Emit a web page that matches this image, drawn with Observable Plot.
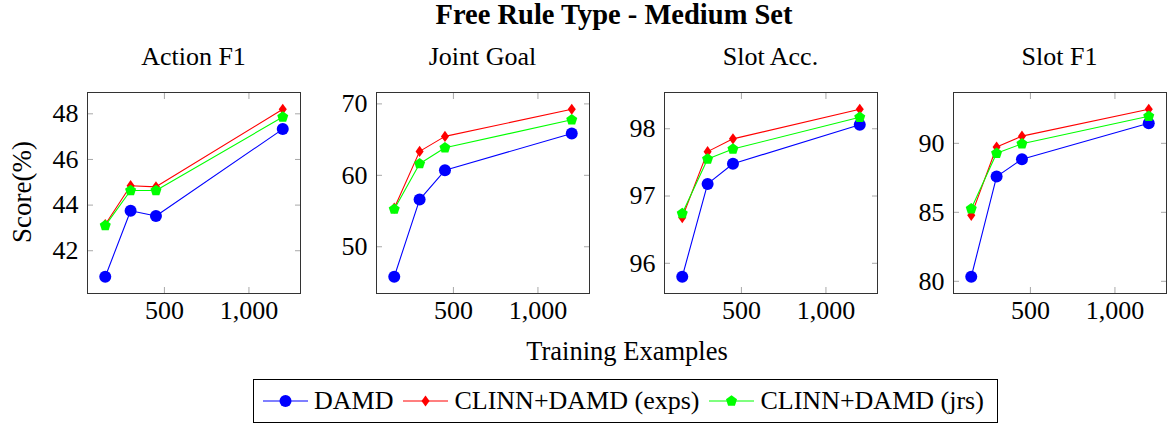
<!DOCTYPE html>
<html><head><meta charset="utf-8">
<script src="https://cdn.jsdelivr.net/npm/d3@7"></script>
<script src="https://cdn.jsdelivr.net/npm/@observablehq/plot@0.6"></script>
<style>
body{margin:0;background:#fff;}
#fig{position:relative;width:1171px;height:425px;font-family:"Liberation Serif","Times New Roman",serif;color:#000;overflow:hidden;}
.abs{position:absolute;white-space:nowrap;}
#fig svg text{font-family:"Liberation Serif","Times New Roman",serif !important;}
</style></head><body><div id="fig"></div>
<script>
// ---- data ----
const title = "Free Rule Type - Medium Set";
const metrics = ["Action F1", "Joint Goal", "Slot Acc.", "Slot F1"];
const examples = [150, 300, 450, 1200];
const xTicks = [500, 1000];
const yTicks = [[42, 44, 46, 48], [50, 60, 70], [96, 97, 98], [80, 85, 90]];
const seriesNames = ["DAMD", "CLINN+DAMD (exps)", "CLINN+DAMD (jrs)"];
const seriesColors = ["#0000ff", "#ff0000", "#00ff00"];
const damd = [[40.86, 43.75, 43.52, 47.33], [45.8, 56.6, 60.7, 65.86], [95.80, 97.18, 97.48, 98.06], [80.33, 87.59, 88.85, 91.46]];
const exps = [[43.15, 44.85, 44.8, 48.2], [55.4, 63.35, 65.45, 69.25], [96.68, 97.66, 97.85, 98.29], [84.78, 89.73, 90.52, 92.47]];
const jrs = [[43.1, 44.64, 44.64, 47.86], [55.26, 61.63, 63.86, 67.77], [96.74, 97.55, 97.70, 98.17], [85.26, 89.28, 89.97, 91.96]];
const xLabel = "Training Examples";
const yLabel = "Score(%)";

// ---- symbols ----
const diamondTall = {draw(ctx, size) {const r = Math.sqrt(size / Math.PI); ctx.moveTo(0, -r); ctx.lineTo(r * 0.72, 0); ctx.lineTo(0, r); ctx.lineTo(-r * 0.72, 0); ctx.closePath();}};
const pentagon = {draw(ctx, size) {const r = Math.sqrt(size / Math.PI); for (let i = 0; i < 5; i++) {const a = -Math.PI / 2 + i * 2 * Math.PI / 5; const px = r * Math.cos(a), py = r * Math.sin(a); if (i) ctx.lineTo(px, py); else ctx.moveTo(px, py);} ctx.closePath();}};
const symbols = ["circle", diamondTall, pentagon];
const symbolR = [6, 5.6, 5.8];
const allSeries = [damd, exps, jrs];

// ---- layout ----
const fig = document.getElementById("fig");
const FONT = "Liberation Serif";
const panelLeft = [87, 376, 664, 953];
const frameTop = 92, frameW = 213, frameH = 201;
const mL = 70, mR = 4, mT = 4, mB = 40;

function addText(txt, css) {
  const d = document.createElement("div");
  d.className = "abs";
  d.textContent = txt;
  Object.assign(d.style, css);
  fig.appendChild(d);
  return d;
}

addText(title, {left: "614px", top: "1px", transform: "translateX(-50%)", fontSize: "28.5px", fontWeight: "bold", lineHeight: "28px"});

metrics.forEach((m, p) => {
  const rows = [];
  allSeries.forEach((s, si) => s[p].forEach((v, i) => rows.push({series: si, x: examples[i], y: v})));
  const ext = d3.extent(rows, d => d.y);
  const pad = (ext[1] - ext[0]) * 0.1;
  const xext = d3.extent(examples);
  const xpad = (xext[1] - xext[0]) * 0.1;
  const marks = [
    Plot.axisX({ticks: xTicks, tickSize: 0, tickPadding: 7, tickFormat: d3.format(","), label: null, fontSize: 26, fontFamily: FONT, fontVariant: "normal"}),
    Plot.axisX({anchor: "bottom", ticks: xTicks, tickSize: -6, tickFormat: () => "", label: null, stroke: "#a8a8a8"}),
    Plot.axisX({anchor: "top", ticks: xTicks, tickSize: -6, tickFormat: () => "", label: null, stroke: "#a8a8a8"}),
    Plot.axisY({ticks: yTicks[p], tickSize: 0, tickPadding: 9, tickFormat: d => String(d), label: null, fontSize: 26, fontFamily: FONT, fontVariant: "normal"}),
    Plot.axisY({anchor: "left", ticks: yTicks[p], tickSize: -6, tickFormat: () => "", label: null, stroke: "#a8a8a8"}),
    Plot.axisY({anchor: "right", ticks: yTicks[p], tickSize: -6, tickFormat: () => "", label: null, stroke: "#a8a8a8"}),
    Plot.frame({stroke: "#333"})
  ];
  allSeries.forEach((s, si) => {
    const data = rows.filter(d => d.series === si);
    marks.push(Plot.line(data, {x: "x", y: "y", stroke: seriesColors[si], strokeWidth: 1.1}));
    marks.push(Plot.dot(data, {x: "x", y: "y", symbol: symbols[si], r: symbolR[si], fill: seriesColors[si], stroke: "none"}));
  });
  const svg = Plot.plot({
    width: mL + frameW + mR, height: mT + frameH + mB,
    marginLeft: mL, marginRight: mR, marginTop: mT, marginBottom: mB,
    style: {fontFamily: FONT, fontSize: "26px", background: "transparent", overflow: "visible", color: "#000"},
    x: {domain: [xext[0] - xpad, xext[1] + xpad]},
    y: {domain: [ext[0] - pad, ext[1] + pad]},
    marks
  });
  d3.select(svg).selectAll("g[aria-label$='tick label']").style("font-family", "'Liberation Serif', serif").style("font-variant", "normal");
  d3.select(svg).selectAll("text").style("font-family", "'Liberation Serif', serif").style("font-variant", "normal");
  svg.style.position = "absolute";
  svg.style.left = (panelLeft[p] - mL) + "px";
  svg.style.top = (frameTop - mT) + "px";
  fig.appendChild(svg);
  addText(m, {left: (panelLeft[p] + frameW / 2) + "px", top: "44px", transform: "translateX(-50%)", fontSize: "26px", lineHeight: "26px"});
});

addText(xLabel, {left: "627px", top: "338px", transform: "translateX(-50%)", fontSize: "26.5px", lineHeight: "26px"});
addText(yLabel, {left: "22px", top: "192px", transform: "translate(-50%,-50%) rotate(-90deg)", fontSize: "27px", lineHeight: "27px"});

// ---- legend ----
const leg = document.createElement("div");
Object.assign(leg.style, {position: "absolute", left: "253px", top: "379px", width: "745px", height: "44px", border: "1px solid #000", boxSizing: "border-box", display: "flex", alignItems: "center", paddingLeft: "9px", fontSize: "26px"});
fig.appendChild(leg);
seriesNames.forEach((name, si) => {
  const ns = "http://www.w3.org/2000/svg";
  const s = document.createElementNS(ns, "svg");
  s.setAttribute("width", 45); s.setAttribute("height", 20);
  s.style.marginRight = "6px"; s.style.flex = "none";
  const ln = document.createElementNS(ns, "line");
  ln.setAttribute("x1", 0); ln.setAttribute("x2", 45); ln.setAttribute("y1", 10); ln.setAttribute("y2", 10);
  ln.setAttribute("stroke", seriesColors[si]); ln.setAttribute("stroke-width", 1.1);
  s.appendChild(ln);
  const sym = symbols[si] === "circle" ? d3.symbolCircle : symbols[si];
  const path = document.createElementNS(ns, "path");
  path.setAttribute("d", d3.symbol(sym, symbolR[si] * symbolR[si] * Math.PI)());
  path.setAttribute("transform", "translate(22.5,10)");
  path.setAttribute("fill", seriesColors[si]);
  s.appendChild(path);
  leg.appendChild(s);
  const t = document.createElement("span");
  t.textContent = name;
  t.style.marginRight = "10px";
  t.style.whiteSpace = "nowrap";
  leg.appendChild(t);
});
</script></body></html>
